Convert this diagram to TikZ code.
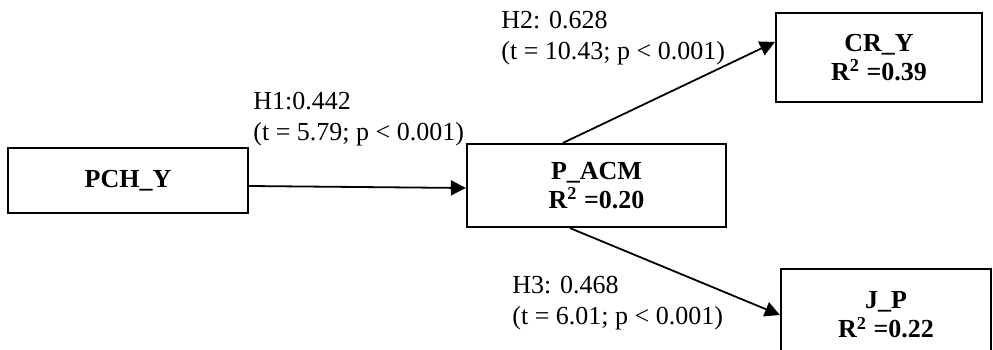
\documentclass[tikz,border=0pt]{standalone}
\usepackage{fontspec}
\setmainfont{Liberation Serif}
\usetikzlibrary{arrows.meta}
\tikzset{
  construct/.style={draw, line width=1.1pt, rectangle, inner sep=0pt, align=center,
    font={\fontsize{13}{14.5}\selectfont\bfseries}},
  pathlabel/.style={anchor=north west, inner sep=0pt, align=left,
    font={\fontsize{13}{15.5}\selectfont}},
  path arrow/.style={line width=0.9pt, -{Triangle[length=7.5pt,width=7.5pt]}}
}
\begin{document}
\begin{tikzpicture}[x=0.5pt, y=-0.5pt]
  \useasboundingbox (0,0) rectangle (993,349);
  \clip (0,0) rectangle (993,349);

  % constructs
  \node[construct, minimum width=120pt, minimum height=32.5pt] (pch) at (128,180.5) {PCH\_Y};
  \node[construct, minimum width=129.5pt, minimum height=41.5pt] (acm) at (596.5,185.5)
    {P\_ACM\\R\textsuperscript{2} =0.20};
  \node[construct, minimum width=103pt, minimum height=44.5pt] (cry) at (879,57.5)
    {CR\_Y\\R\textsuperscript{2} =0.39};
  \node[construct, minimum width=105pt, minimum height=46pt] (jp) at (886,315)
    {J\_P\\R\textsuperscript{2} =0.22};

  % structural paths
  \draw[path arrow] ([yshift=-2.75pt]pch.east) -- ([yshift=-1.25pt]acm.west);
  \draw[path arrow] ([xshift=-16.75pt]acm.north) -- ([yshift=7.75pt]cry.west);
  \draw[path arrow] ([xshift=-13.25pt]acm.south) -- (jp.west);

  % path coefficients
  \node[pathlabel] (h1) at (253,91.5) {H1:0.442\\(t = 5.79; p < 0.001)};
  \node[pathlabel] (h2) at (501,10.5) {H2: 0.628\\(t = 10.43; p < 0.001)};
  \node[pathlabel] (h3) at (512,275.5) {H3: 0.468\\(t = 6.01; p < 0.001)};
\end{tikzpicture}
\end{document}
